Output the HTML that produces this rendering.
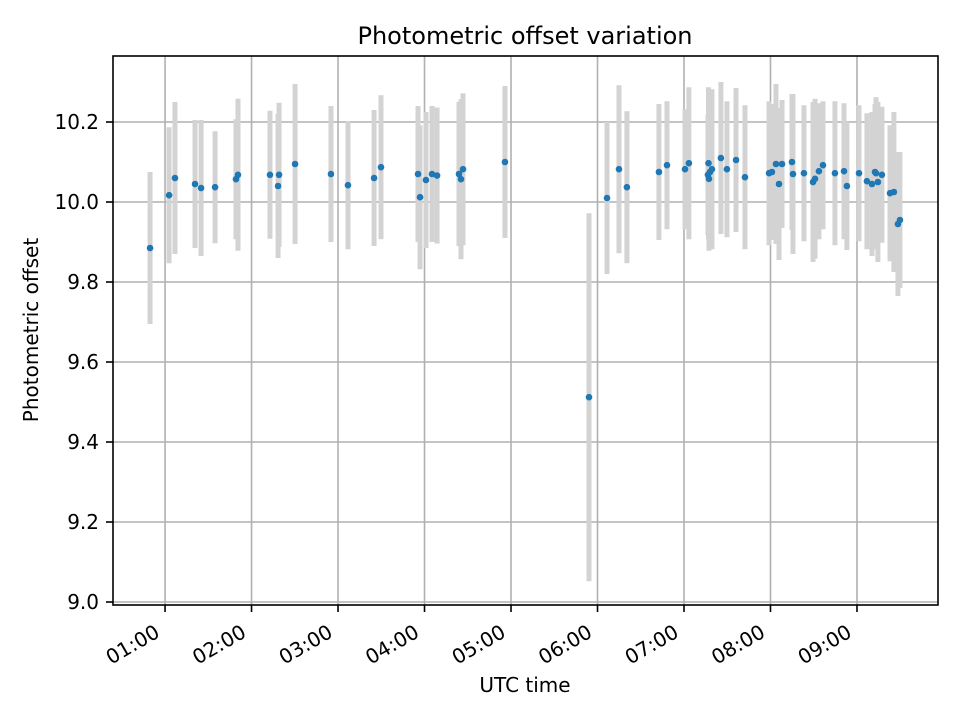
<!DOCTYPE html>
<html><head><meta charset="utf-8"><style>
html,body{margin:0;padding:0;background:#fff}
svg{display:block;font-family:"DejaVu Sans","Liberation Sans",sans-serif}
</style></head><body>
<svg id="chart" width="960" height="720" viewBox="0 0 960 720" xmlns="http://www.w3.org/2000/svg">
<rect width="960" height="720" fill="#fff"/>
<g id="grid"></g>
<g id="errs"></g>
<g id="pts"></g>
<rect x="113" y="56" width="825" height="549" fill="none" stroke="#000" stroke-width="1.6"/>
<g id="ticks"></g>
<text x="525" y="44" text-anchor="middle" font-size="24">Photometric offset variation</text>
<text x="525" y="692" text-anchor="middle" font-size="20">UTC time</text>
<text transform="translate(38,330) rotate(-90)" text-anchor="middle" font-size="20">Photometric offset</text>
</svg>
<script>
const times=[49.6,62.8,66.9,80.8,85.0,94.7,109.2,110.6,132.8,138.4,139.1,150.2,175.1,186.9,205.0,209.8,235.5,236.9,241.0,245.2,248.7,263.9,265.3,266.7,295.8,354.1,366.6,374.9,380.4,402.6,408.2,420.7,423.4,436.6,437.0,438.0,439.4,437.3,445.6,449.8,456.1,462.3,479.0,481.0,483.8,485.9,488.0,494.9,495.6,503.2,509.5,510.9,513.6,516.4,524.7,531.0,533.0,541.4,546.9,550.4,552.5,553.2,554.5,557.3,562.9,565.6,568.4,569.8];
const values=[9.885,10.017,10.06,10.045,10.035,10.037,10.057,10.068,10.068,10.04,10.068,10.095,10.07,10.042,10.06,10.087,10.07,10.012,10.055,10.07,10.066,10.07,10.057,10.082,10.1,9.512,10.01,10.082,10.037,10.075,10.092,10.082,10.097,10.068,10.097,10.075,10.082,10.058,10.11,10.082,10.105,10.062,10.072,10.075,10.095,10.045,10.095,10.1,10.07,10.072,10.05,10.058,10.077,10.092,10.072,10.077,10.04,10.072,10.052,10.045,10.075,10.072,10.05,10.068,10.022,10.025,9.945,9.955];
const errs=[0.19,0.17,0.19,0.16,0.17,0.14,0.15,0.19,0.16,0.18,0.18,0.2,0.17,0.16,0.17,0.18,0.17,0.18,0.17,0.17,0.17,0.18,0.2,0.19,0.19,0.46,0.19,0.21,0.19,0.17,0.16,0.15,0.19,0.15,0.19,0.17,0.2,0.18,0.19,0.17,0.18,0.18,0.18,0.17,0.2,0.19,0.16,0.17,0.2,0.17,0.2,0.2,0.17,0.16,0.18,0.17,0.16,0.17,0.17,0.18,0.17,0.19,0.2,0.17,0.17,0.2,0.18,0.17];
const yTicks=[9.0,9.2,9.4,9.6,9.8,10.0,10.2];
const xTickMinutes=[60,120,180,240,300,360,420,480,540];
const xTickLabels=["01:00","02:00","03:00","04:00","05:00","06:00","07:00","08:00","09:00"];
const NS="http://www.w3.org/2000/svg";
const X0=113,X1=938,Y0=56,Y1=605;
const xMin=23.9,xMax=596.2,yMin=8.9925,yMax=10.365;
function xs(m){return X0+(m-xMin)/(xMax-xMin)*(X1-X0);}
function ys(v){return Y1-(v-yMin)/(yMax-yMin)*(Y1-Y0);}
function mk(tag,attrs,parent){const e=document.createElementNS(NS,tag);for(const k in attrs)e.setAttribute(k,attrs[k]);parent.appendChild(e);return e;}
const grid=document.getElementById('grid'),ticks=document.getElementById('ticks');
yTicks.forEach(v=>{const y=ys(v);
 const g=mk('line',{x1:X0,x2:X1,y1:y,y2:y,stroke:'#b0b0b0','stroke-width':1.6},grid);
 
 
 const t=mk('line',{x1:X0-7,x2:X0,y1:y,y2:y,stroke:'#000','stroke-width':1.6},ticks);
 
 
 const l=mk('text',{x:X0-14,y:y+7,'text-anchor':'end','font-size':20},ticks);
 
 
 l.textContent=v.toFixed(1);
});
xTickMinutes.forEach((m,i)=>{const x=xs(m);
 const g=mk('line',{x1:x,x2:x,y1:Y0,y2:Y1,stroke:'#b0b0b0','stroke-width':1.6},grid);
 
 
 const t=mk('line',{x1:x,x2:x,y1:Y1,y2:Y1+7,stroke:'#000','stroke-width':1.6},ticks);
 
 
 const l=mk('text',{transform:`translate(${x-4},${Y1+31}) rotate(-30)`,'text-anchor':'end','font-size':20},ticks);
 
 
 l.textContent=xTickLabels[i];
});
const eg=document.getElementById('errs'),pg=document.getElementById('pts');
times.forEach((m,i)=>{const x=xs(m);
 const e=mk('line',{x1:x,x2:x,y1:ys(values[i]+errs[i]),y2:ys(values[i]-errs[i]),stroke:'#d3d3d3','stroke-width':5},eg);
 
 
});
times.forEach((m,i)=>{
 const c=mk('circle',{cx:xs(m),cy:ys(values[i]),r:3.3,fill:'#1f77b4'},pg);
 
 
});
</script>
</body></html>
